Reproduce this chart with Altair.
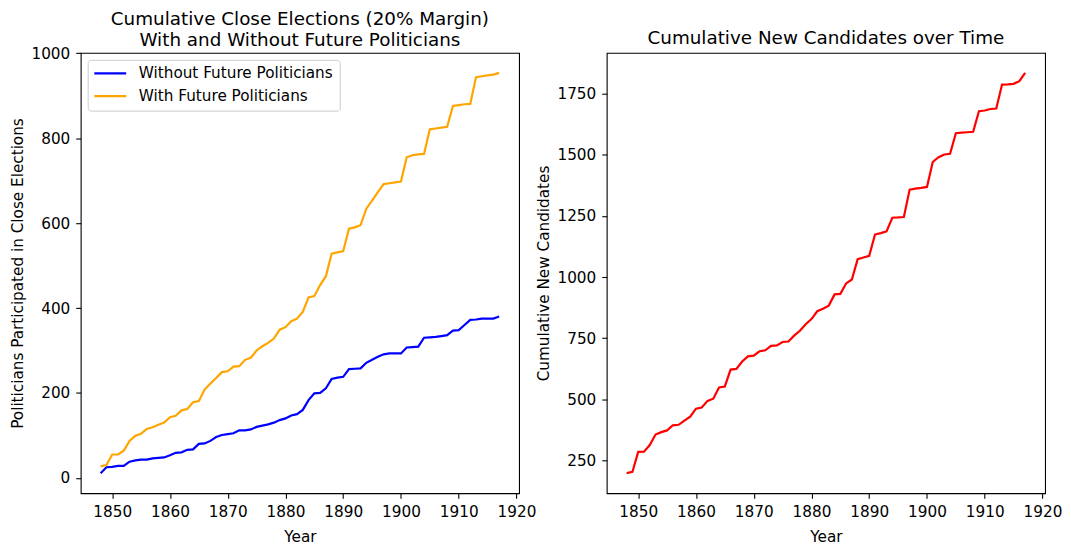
import altair as alt
import pandas as pd

FONT = "DejaVu Sans"

years = list(range(1848, 1918))

without_future = [
    11, 25, 26, 28, 28, 38, 41, 43, 43, 46,
    47, 48, 53, 59, 60, 66, 67, 80, 81, 87,
    96, 101, 103, 105, 112, 112, 114, 120, 123, 126,
    130, 136, 140, 147, 150, 160, 183, 199, 200, 211,
    233, 236, 238, 256, 257, 258, 271, 278, 285, 291,
    293, 293, 293, 307, 308, 309, 330, 331, 332, 334,
    336, 347, 348, 360, 372, 373, 375, 375, 375, 380,
]

with_future = [
    27, 30, 55, 55, 64, 87, 99, 104, 115, 119,
    125, 130, 143, 146, 159, 162, 178, 181, 208, 222,
    235, 249, 251, 262, 263, 278, 283, 300, 310, 318,
    328, 349, 355, 369, 375, 391, 425, 428, 454, 475,
    528, 531, 534, 587, 590, 595, 634, 653, 673, 692,
    694, 696, 698, 755, 760, 762, 763, 821, 823, 825,
    827, 876, 878, 880, 881, 944, 946, 948, 950, 954,
]

new_candidates = [
    197, 202, 284, 285, 312, 355, 365, 372, 393, 395,
    412, 428, 461, 466, 493, 502, 548, 552, 621, 624,
    654, 675, 678, 696, 700, 718, 720, 734, 736, 760,
    780, 807, 828, 860, 870, 883, 929, 931, 974, 990,
    1073, 1080, 1087, 1174, 1180, 1187, 1243, 1244, 1246, 1358,
    1362, 1365, 1369, 1471, 1491, 1502, 1505, 1589, 1591, 1593,
    1595, 1679, 1682, 1688, 1690, 1788, 1789, 1791, 1802, 1836,
]

series_names = ["Without Future Politicians", "With Future Politicians"]
series_colors = ["#0000ff", "#ffa500"]
x_ticks = [1850, 1860, 1870, 1880, 1890, 1900, 1910, 1920]
left_y_ticks = [0, 200, 400, 600, 800, 1000]
right_y_ticks = [250, 500, 750, 1000, 1250, 1500, 1750]

df_left = pd.DataFrame({
    "year": years * 2,
    "value": without_future + with_future,
    "series": [series_names[0]] * len(years) + [series_names[1]] * len(years),
    "ord": [0] * len(years) + [1] * len(years),
})
df_right = pd.DataFrame({"year": years, "value": new_candidates})

x_dom = [1844.55, 1920.45]
W = 440
H = 442
LBL = 15.3
TTL = 18.4


def x_enc():
    return alt.X(
        "year:Q",
        title="Year",
        scale=alt.Scale(domain=x_dom, nice=False, zero=False),
        axis=alt.Axis(values=x_ticks, format="d", labelPadding=6, titlePadding=10),
    )


left = (
    alt.Chart(df_left)
    .mark_line(strokeWidth=2.2)
    .encode(
        x=x_enc(),
        y=alt.Y(
            "value:Q",
            title="Politicians Participated in Close Elections",
            scale=alt.Scale(domain=[-36.15, 1001.15], nice=False, zero=False),
            axis=alt.Axis(values=left_y_ticks, format="d", titlePadding=6),
        ),
        color=alt.Color(
            "series:N",
            sort=series_names,
            scale=alt.Scale(domain=series_names, range=series_colors),
            legend=alt.Legend(title=None, orient="top-left", offset=7),
        ),
        order="ord:Q",
    )
    .properties(
        width=W,
        height=H,
        title=alt.TitleParams(
            ["Cumulative Close Elections (20% Margin)", "With and Without Future Politicians"],
            fontSize=TTL,
            font=FONT,
            fontWeight="normal",
            lineHeight=21,
            offset=-3,
            anchor="middle",
            color="black",
        ),
    )
)

right = (
    alt.Chart(df_right)
    .mark_line(strokeWidth=2.2, color="#ff0000")
    .encode(
        x=x_enc(),
        y=alt.Y(
            "value:Q",
            title="Cumulative New Candidates",
            scale=alt.Scale(domain=[115.0, 1918.0], nice=False, zero=False),
            axis=alt.Axis(values=right_y_ticks, format="d", titlePadding=6),
        ),
    )
    .properties(
        width=W,
        height=H,
        title=alt.TitleParams(
            "Cumulative New Candidates over Time",
            fontSize=TTL,
            font=FONT,
            fontWeight="normal",
            offset=5,
            anchor="middle",
            color="black",
        ),
    )
)

chart = (
    alt.hconcat(left, right, spacing=88, bounds="flush")
    .properties(padding={"left": 1, "top": 0, "right": 0, "bottom": 0})
    .configure_view(stroke="black", strokeWidth=1.1)
    .configure_axis(
        grid=False,
        domain=False,
        tickColor="black",
        tickSize=5,
        tickWidth=1.1,
        labelPadding=6,
        labelFont=FONT,
        labelFontSize=LBL,
        labelColor="black",
        titleFont=FONT,
        titleFontSize=LBL,
        titleFontWeight="normal",
        titleColor="black",
    )
    .configure_legend(
        padding=6,
        strokeColor="#cccccc",
        cornerRadius=3,
        fillColor="white",
        labelFont=FONT,
        labelFontSize=LBL,
        labelColor="black",
        labelLimit=400,
        symbolType="M-1.4,0H5",
        symbolSize=100,
        symbolStrokeWidth=2.2,
        labelOffset=30,
        rowPadding=6.7,
    )
)

chart.save("out.html", embed_options={"renderer": "svg", "actions": False})
